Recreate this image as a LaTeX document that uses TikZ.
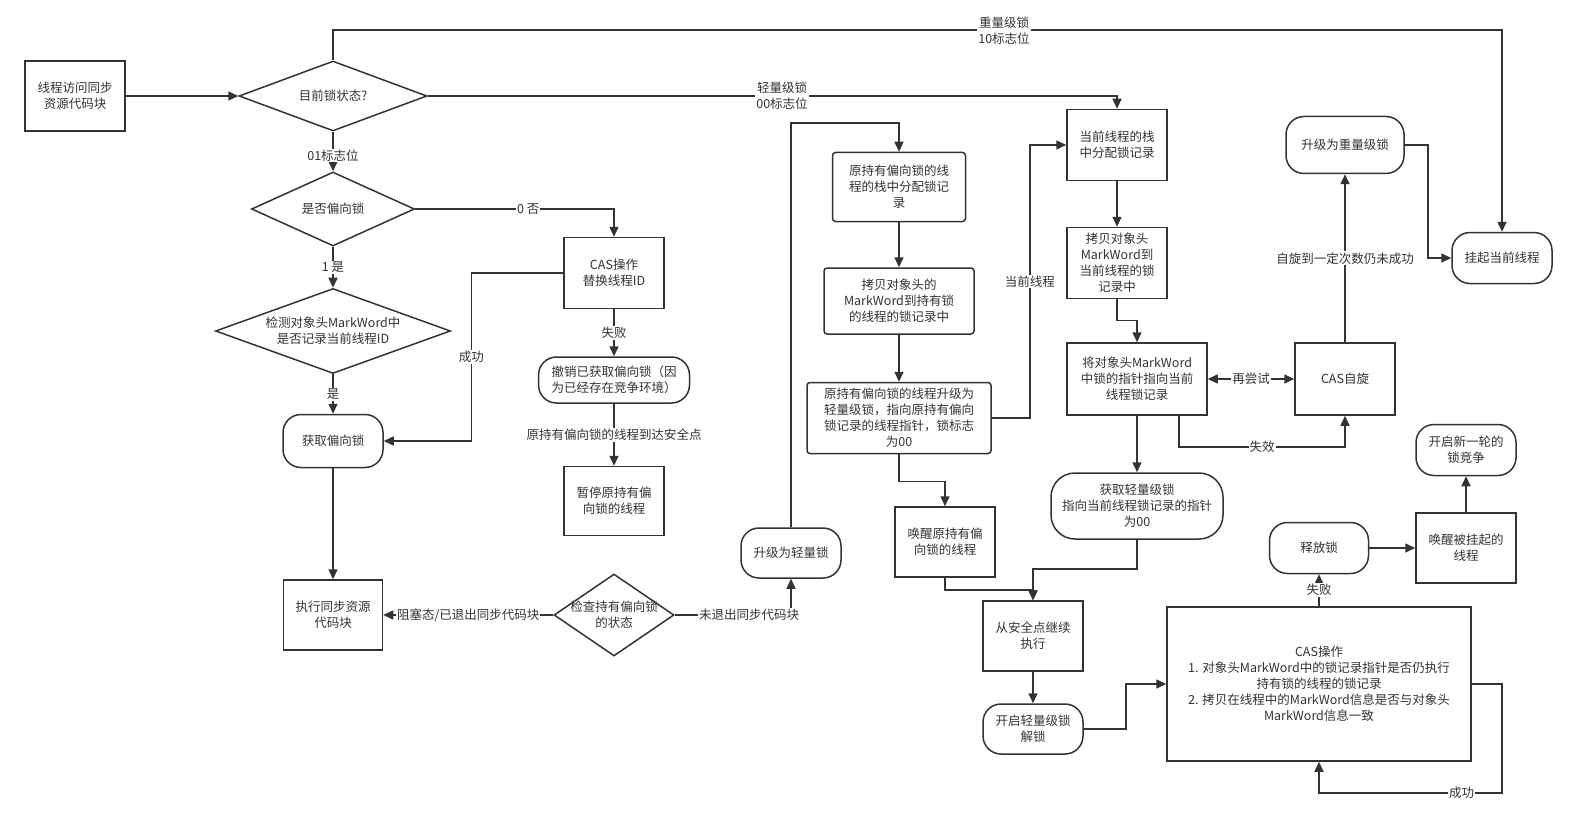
\documentclass[tikz,border=0pt]{standalone}
\usepackage{fontspec}
\setmainfont{Noto Sans CJK SC}
\usetikzlibrary{shapes.geometric,arrows.meta}
\definecolor{ln}{HTML}{333333}
% text inside a diamond, kept out of the shape size
\newcommand{\dtxt}[1]{\smash{\raisebox{-4pt}{\makebox[0pt]{\begin{tabular}{@{}c@{}}#1\end{tabular}}}}}

\begin{document}
\begin{tikzpicture}[x=1pt, y=-1pt,
  every node/.style={font=\fontsize{12.5}{16}\selectfont, text=ln},
  sz/.style 2 args={minimum width=#1pt, minimum height=#2pt},
  procbox/.style={draw=ln, line width=1.5pt, fill=white, align=center, inner sep=2pt},
  rbox/.style={procbox, rounded corners=3pt},
  pill/.style={procbox, rounded corners=18pt},
  decision/.style={diamond, draw=ln, line width=1.5pt, fill=white, inner sep=0pt},
  conn/.style={draw=ln, line width=1.5pt},
  arr/.style={-{Triangle[length=10pt,width=9pt]}},
  arrs/.style={{Triangle[length=10pt,width=9pt]}-{Triangle[length=10pt,width=9pt]}},
  elab/.style={fill=white, inner sep=1pt, align=center}]
\fill[white] (0,0) rectangle (1576,813);
\useasboundingbox (0,0) rectangle (1576,813);
% biased lock column
\node[procbox, sz={100}{70}] (start) at (75,96) {线程访问同步\\资源代码块};
\node[decision, sz={188}{70}] (state) at (333,96) {\dtxt{目前锁状态?}};
\node[decision, sz={163}{74}] (biased) at (333,209) {\dtxt{是否偏向锁}};
\node[decision, sz={235}{85}] (markchk) at (333,331) {\dtxt{检测对象头MarkWord中\\是否记录当前线程ID}};
\node[pill, sz={100}{53}] (getbias) at (333,441) {获取偏向锁};
\node[procbox, sz={99}{70}] (exec) at (333,615) {执行同步资源\\代码块};
\node[procbox, sz={100}{71}] (casid) at (614,273) {CAS操作\\替换线程ID};
\node[pill, sz={151}{46}] (revoke) at (614,380) {撤销已获取偏向锁（因\\为已经存在竞争环境）};
\node[procbox, sz={100}{69}] (pause) at (614,501) {暂停原持有偏\\向锁的线程};
\node[decision, sz={120}{82}] (chkstate) at (614,615) {\dtxt{检查持有偏向锁\\的状态}};
% revoke and upgrade
\node[pill, sz={100}{50}] (tolight) at (791,553) {升级为轻量锁};
\node[rbox, sz={133}{69}] (oldalloc) at (899,187) {原持有偏向锁的线\\程的栈中分配锁记\\录};
\node[rbox, sz={150}{66}] (oldcopy) at (899,301) {拷贝对象头的\\MarkWord到持有锁\\的线程的锁记录中};
\node[rbox, sz={184}{71}] (oldup) at (899,418) {原持有偏向锁的线程升级为\\轻量级锁，指向原持有偏向\\锁记录的线程指针，锁标志\\为00};
\node[procbox, sz={100}{70}] (wakeold) at (945,542) {唤醒原持有偏\\向锁的线程};
\node[procbox, sz={100}{70}] (resume) at (1033,636) {从安全点继续\\执行};
\node[pill, sz={100}{50}] (unlock) at (1033,729) {开启轻量级锁\\解锁};
% lightweight lock column
\node[procbox, sz={100}{71}] (curalloc) at (1117,145) {当前线程的栈\\中分配锁记录};
\node[procbox, sz={100}{71}] (curcopy) at (1117,263) {拷贝对象头\\MarkWord到\\当前线程的锁\\记录中};
\node[procbox, sz={140}{72}] (curptr) at (1137,379) {将对象头MarkWord\\中锁的指针指向当前\\线程锁记录};
\node[procbox, sz={100}{72}] (spin) at (1345,379) {CAS自旋};
\node[pill, sz={172}{66}, rounded corners=24pt] (getlight) at (1137,506) {获取轻量级锁\\指向当前线程锁记录的指针\\为00};
\node[procbox, sz={304}{154}] (bigcas) at (1319,684) {CAS操作\\1. 对象头MarkWord中的锁记录指针是否仍执行\\持有锁的线程的锁记录\\2. 拷贝在线程中的MarkWord信息是否与对象头\\MarkWord信息一致};
\node[pill, sz={99}{51}] (release) at (1319,548) {释放锁};
\node[procbox, sz={100}{70}] (wakesus) at (1466,548) {唤醒被挂起的\\线程};
\node[pill, sz={100}{51}] (newround) at (1466,450) {开启新一轮的\\锁竞争};
% heavyweight lock
\node[pill, sz={118}{57}] (toheavy) at (1345,145) {升级为重量级锁};
\node[pill, sz={100}{51}] (suspend) at (1502,258) {挂起当前线程};
% connectors
\draw[conn, arr] (start.east) -- (state.west);
\draw[conn, arr] (state.north) -- ++(0,-30) -| (suspend.north) node[elab, pos=0.287] {重量级锁\\10标志位};
\draw[conn, arr] (state.east) -| (curalloc.north) node[elab, pos=0.257] {轻量级锁\\00标志位};
\draw[conn, arr] (state) -- (biased) node[elab, pos=0.6] {01标志位};
\draw[conn, arr] (biased.east) -| (casid.north) node[elab, pos=0.284] {0 否};
\draw[conn, arr] (biased) -- (markchk) node[elab, midway] {1 是};
\draw[conn, arr] (markchk) -- (getbias) node[elab, midway] {是};
\draw[conn, arr] (casid.west) -- ++(-92,0) |- (getbias.east) node[elab, pos=0.25] {成功};
\draw[conn, arr] (casid) -- (revoke) node[elab, midway] {失败};
\draw[conn, arr] (revoke) -- (pause) node[elab, midway] {原持有偏向锁的线程到达安全点};
\draw[conn, arr] (getbias) -- (exec);
\draw[conn, arr] (chkstate) -- (exec) node[elab, midway] {阻塞态/已退出同步代码块};
\draw[conn, arr] (chkstate.east) -| (tolight.south) node[elab, pos=0.32] {未退出同步代码块};
\draw[conn, arr] (tolight.north) -- ++(0,-404) -| (oldalloc.north);
\draw[conn, arr] (oldalloc) -- (oldcopy);
\draw[conn, arr] (oldcopy) -- (oldup);
\draw[conn, arr] (oldup.east) -- ++(38,0) |- (curalloc.west) node[elab, pos=0.25] {当前线程};
\draw[conn, arr] (oldup.south) -- ++(0,27) -| (wakeold.north);
\draw[conn, arr] (wakeold.south) -- ++(0,12) -| (resume.north);
\draw[conn, arr] (getlight.south) -- ++(0,29) -| (resume.north);
\draw[conn, arr] (resume) -- (unlock);
\draw[conn, arr] (unlock.east) -- ++(42,0) |- (bigcas.west);
\draw[conn, arr] (bigcas.east) -- ++(30,0) -- ++(0,109) -| (bigcas.south) node[elab, pos=0.11] {成功};
\draw[conn, arr] (bigcas) -- (release) node[elab, midway] {失败};
\draw[conn, arr] (release) -- (wakesus);
\draw[conn, arr] (wakesus) -- (newround);
\draw[conn, arr] (curalloc) -- (curcopy);
\draw[conn, arr] (curcopy.south) -- ++(0,21) -| (curptr.north);
\draw[conn, arrs] (curptr) -- (spin) node[elab, midway] {再尝试};
\draw[conn, arr] ([xshift=42pt]curptr.south) -- ++(0,31) -| (spin.south) node[elab, pos=0.25] {失效};
\draw[conn, arr] (curptr) -- (getlight);
\draw[conn, arr] (spin) -- (toheavy) node[elab, midway] {自旋到一定次数仍未成功};
\draw[conn, arr] (toheavy.east) -- ++(23,0) |- (suspend.west);
\end{tikzpicture}
\end{document}
